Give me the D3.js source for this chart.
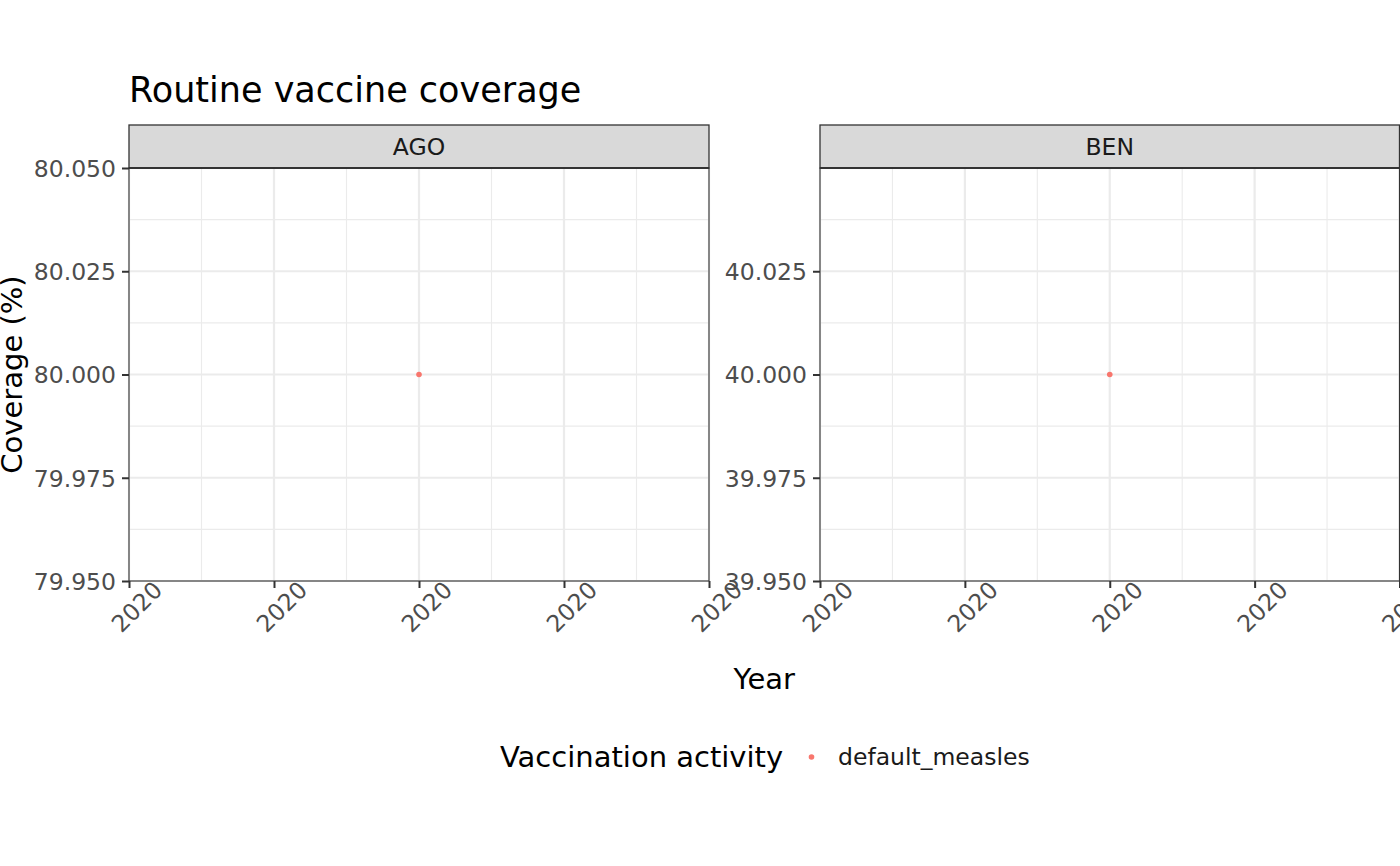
<!DOCTYPE html>
<html>
<head>
<meta charset="utf-8">
<script src="https://cdn.jsdelivr.net/npm/d3@7/dist/d3.min.js"></script>
<style>
  html, body { margin: 0; padding: 0; background: #fff; }
  svg { display: block; font-family: "DejaVu Sans", sans-serif; }
</style>
</head>
<body>
<svg id="chart" width="1400" height="866"></svg>
<script>
// ---- data ----
const facets = ["AGO", "BEN"];
const years = [2020, 2020];
const coverage = [80, 40];
const activity = ["default_measles", "default_measles"];
const xDomain = [2019.95, 2020.05];
const xTicks = [2019.95, 2019.975, 2020, 2020.025, 2020.05];
const xTickLabels = ["2020", "2020", "2020", "2020", "2020"];
const yDomains = [[79.95, 80.05], [39.95, 40.05]];
const yTicks = [
  [79.95, 79.975, 80, 80.025, 80.05],
  [39.95, 39.975, 40, 40.025]
];
const yTickLabels = [
  ["79.950", "79.975", "80.000", "80.025", "80.050"],
  ["39.950", "39.975", "40.000", "40.025"]
];
const legendTitle = "Vaccination activity";
const legendKeys = ["default_measles"];
const title = "Routine vaccine coverage";
const xTitle = "Year";
const yTitle = "Coverage (%)";

// ---- layout ----
const svg = d3.select("#chart");
const panelX = [[129, 709], [820, 1399.5]];
const panelTop = 168, panelBottom = 581, stripTop = 125;
const small = 23.5, big = 29;
const color = d3.scaleOrdinal().domain(legendKeys).range(["#F8766D"]);

svg.append("text").attr("x", 129).attr("y", 101.5)
  .attr("font-size", 35).attr("fill", "#000").text(title);

facets.forEach((f, i) => {
  const x = d3.scaleLinear().domain(xDomain).range(panelX[i]);
  const y = d3.scaleLinear().domain(yDomains[i]).range([panelBottom, panelTop]);
  const g = svg.append("g");
  const [x0, x1] = panelX[i];

  // minor grid
  const xMinor = d3.pairs(xTicks).map(([a, b]) => (a + b) / 2);
  const yFull = d3.range(5).map(k => yDomains[i][0] + k * (yDomains[i][1] - yDomains[i][0]) / 4);
  const yMinor = d3.pairs(yFull).map(([a, b]) => (a + b) / 2);
  g.selectAll(".xminor").data(xMinor).join("line")
    .attr("x1", d => x(d)).attr("x2", d => x(d)).attr("y1", panelTop).attr("y2", panelBottom)
    .attr("stroke", "#EBEBEB").attr("stroke-width", 1.1);
  g.selectAll(".yminor").data(yMinor).join("line")
    .attr("x1", x0).attr("x2", x1).attr("y1", d => y(d)).attr("y2", d => y(d))
    .attr("stroke", "#EBEBEB").attr("stroke-width", 1.1);
  // major grid
  g.selectAll(".xmajor").data(xTicks).join("line")
    .attr("x1", d => x(d)).attr("x2", d => x(d)).attr("y1", panelTop).attr("y2", panelBottom)
    .attr("stroke", "#EBEBEB").attr("stroke-width", 2.2);
  g.selectAll(".ymajor").data(yTicks[i]).join("line")
    .attr("x1", x0).attr("x2", x1).attr("y1", d => y(d)).attr("y2", d => y(d))
    .attr("stroke", "#EBEBEB").attr("stroke-width", 2.2);

  // point
  g.append("circle")
    .attr("cx", x(years[i])).attr("cy", y(coverage[i])).attr("r", 2.8)
    .attr("fill", color(activity[i]));

  // panel border
  g.append("rect").attr("x", x0).attr("y", panelTop)
    .attr("width", x1 - x0).attr("height", panelBottom - panelTop)
    .attr("fill", "none").attr("stroke", "#333333").attr("stroke-width", 1.1);

  // strip
  g.append("rect").attr("x", x0).attr("y", stripTop)
    .attr("width", x1 - x0).attr("height", panelTop - stripTop)
    .attr("fill", "#D9D9D9").attr("stroke", "#333333").attr("stroke-width", 1.3);
  g.append("line").attr("x1", x0).attr("x2", x1).attr("y1", panelTop).attr("y2", panelTop)
    .attr("stroke", "#333333").attr("stroke-width", 2.2);
  g.append("text").attr("x", (x0 + x1) / 2).attr("y", (stripTop + panelTop) / 2)
    .attr("text-anchor", "middle").attr("dominant-baseline", "central")
    .attr("font-size", small).attr("fill", "#1A1A1A").text(f);

  // y axis
  const yAxis = d3.axisLeft(y).tickValues(yTicks[i]).tickSize(7).tickPadding(6)
    .tickFormat((d, k) => yTickLabels[i][k]);
  const ya = svg.append("g").attr("transform", `translate(${x0},0)`).call(yAxis);
  ya.select(".domain").remove();
  ya.selectAll(".tick line").attr("stroke", "#333333").attr("stroke-width", 2);
  ya.selectAll(".tick text").attr("font-size", small).attr("fill", "#4D4D4D")
    .attr("font-family", "DejaVu Sans").attr("dy", "0.36em");

  // x axis
  const xAxis = d3.axisBottom(x).tickValues(xTicks).tickSize(7).tickFormat("");
  const xa = svg.append("g").attr("transform", `translate(0,${panelBottom})`).call(xAxis);
  xa.select(".domain").remove();
  xa.selectAll(".tick line").attr("stroke", "#333333").attr("stroke-width", 2);
  svg.append("g").selectAll("text").data(xTicks).join("text")
    .attr("transform", d => `translate(${x(d) + 8},${panelBottom + 26}) rotate(-45)`)
    .attr("text-anchor", "middle").attr("dominant-baseline", "central")
    .attr("font-size", small).attr("fill", "#4D4D4D")
    .text((d, k) => xTickLabels[k]);
});

// axis titles
svg.append("text").attr("x", (129 + 1399.5) / 2).attr("y", 689)
  .attr("text-anchor", "middle").attr("font-size", big).attr("fill", "#000").text(xTitle);
svg.append("text").attr("transform", `translate(22,${(panelTop + panelBottom) / 2}) rotate(-90)`)
  .attr("text-anchor", "middle").attr("font-size", big).attr("fill", "#000").text(yTitle);

// legend
svg.append("text").attr("x", 500).attr("y", 767)
  .attr("font-size", big).attr("fill", "#000").text(legendTitle);
legendKeys.forEach((k, i) => {
  svg.append("circle").attr("cx", 811.5).attr("cy", 757).attr("r", 2.8).attr("fill", color(k));
  svg.append("text").attr("x", 838).attr("y", 757).attr("dominant-baseline", "central")
    .attr("font-size", small).attr("fill", "#1A1A1A").text(k);
});
</script>
</body>
</html>
